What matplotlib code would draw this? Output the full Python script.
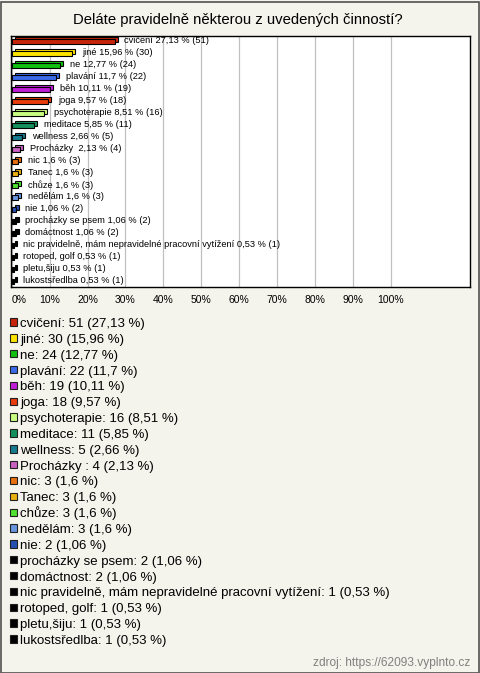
import matplotlib
matplotlib.use("Agg")
import matplotlib.pyplot as plt
from matplotlib.transforms import offset_copy
from matplotlib.patches import Rectangle

plt.rcParams['font.family'] = ['Liberation Sans', 'DejaVu Sans']

title = "Deláte pravidelně některou z uvedených činností?"
categories = ["cvičení", "jiné", "ne", "plavání", "běh", "joga", "psychoterapie",
              "meditace", "wellness", "Procházky ", "nic", "Tanec", "chůze", "nedělám",
              "nie", "procházky se psem", "domáctnost",
              "nic pravidelně, mám nepravidelné pracovní vytížení",
              "rotoped, golf", "pletu,šiju", "lukostsředlba"]
counts = [51, 30, 24, 22, 19, 18, 16, 11, 5, 4, 3, 3, 3, 3, 2, 2, 2, 1, 1, 1, 1]
percents = [27.13, 15.96, 12.77, 11.7, 10.11, 9.57, 8.51, 5.85, 2.66, 2.13, 1.6, 1.6,
            1.6, 1.6, 1.06, 1.06, 1.06, 0.53, 0.53, 0.53, 0.53]
colors = ["#c8240c", "#ffe400", "#10c010", "#3c6ae8", "#c01cd8", "#e83c0c", "#c8ff80",
          "#14905c", "#187c90", "#c860c0", "#e87010", "#e8b010", "#50e030", "#6894e0",
          "#2450b0", "#000000", "#000000", "#000000", "#000000", "#000000", "#000000"]
xticks = [0, 10, 20, 30, 40, 50, 60, 70, 80, 90, 100]
source = "zdroj: https://62093.vyplnto.cz"

W, H = 480, 673
fig = plt.figure(figsize=(W / 100, H / 100), dpi=100)
bg = "#f4f4ec"
fig.patch.set_facecolor(bg)
fig.patches.append(Rectangle((0.5 / W, 0.5 / H), 1 - 2 / W, 1 - 2 / H, transform=fig.transFigure,
                             fill=False, edgecolor="#505050", lw=1.2))

fig.text(237.5 / W, 1 - 20 / H, title, ha="center", va="center", fontsize=10.7, color="#000000")

n = len(categories)
ax = fig.add_axes([11 / W, 1 - 287 / H, 459 / W, 251 / H])
ax.set_facecolor("white")
ax.set_xlim(-0.2, 120.9)
ax.set_ylim(n - 0.55, -0.45)
for s in ax.spines.values():
    s.set_color("black")
    s.set_linewidth(1.0)
ax.set_xticks(xticks)
ax.set_xticklabels([f"{t}%" for t in xticks], fontsize=7.5)
ax.get_xticklabels()[0].set_horizontalalignment("left")
ax.tick_params(axis="x", length=0, pad=6)
ax.set_yticks([])
ax.grid(axis="x", color="#c0c0c0", lw=0.9)
ax.set_axisbelow(True)

ypos = list(range(n))
h = 0.4
dx, dy = 2.2, 1.6  # points
trans_back = offset_copy(ax.transData, fig=fig, x=dx, y=dy, units="points")
ax.barh(ypos, percents, height=h, color=colors, edgecolor="black", lw=0.8,
        transform=trans_back, zorder=3)
ax.barh(ypos, percents, height=h, color=colors, edgecolor="black", lw=0.8, zorder=4)

def fmt(p):
    return f"{p:g}".replace(".", ",")

for y, c, p, k in zip(ypos, categories, percents, counts):
    ax.annotate(f"{c} {fmt(p)} % ({k})", xy=(p, y), xytext=(7, 0.5),
                textcoords="offset points", ha="left", va="center", fontsize=6.7, zorder=5)

# legend
y0, step = 322, 15.85
for i, (c, p, k, col) in enumerate(zip(categories, percents, counts, colors)):
    yy = y0 + i * step
    fig.patches.append(Rectangle((10 / W, 1 - (yy + 3.7) / H), 7.4 / W, 7.4 / H,
                                 transform=fig.transFigure, facecolor=col,
                                 edgecolor="#202020", lw=0.8))
    fig.text(20 / W, 1 - (yy + 5) / H, f"{c}: {k} ({fmt(p)} %)", ha="left", va="baseline",
             fontsize=9.5, color="#000000")

fig.text(470 / W, 1 - 666 / H, source, ha="right", va="baseline", fontsize=8.6, color="#808080")

fig.savefig("out.png", dpi=100, facecolor=bg)
